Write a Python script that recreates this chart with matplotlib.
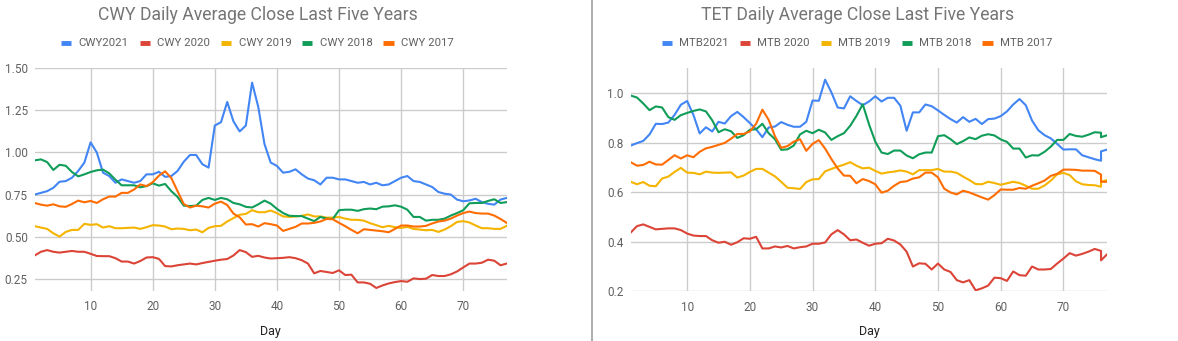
import numpy as np
import matplotlib
matplotlib.use("Agg")
import matplotlib.pyplot as plt
from matplotlib.lines import Line2D

plt.rcParams['font.family'] = ['Roboto', 'DejaVu Sans']

# day numbers
days_cwy = list(range(1, 78))
# the TET chart has two readings on day 76
days_mtb = list(range(1, 77)) + [76, 77]

cwy_2021 = [0.75, 0.76, 0.77, 0.79, 0.826, 0.83, 0.85, 0.89, 0.94, 1.06,
            1.0, 0.88, 0.86, 0.82, 0.84, 0.83, 0.82, 0.83, 0.87, 0.87,
            0.885, 0.855, 0.86, 0.89, 0.945, 0.985, 0.985, 0.93, 0.91, 1.16,
            1.18, 1.30, 1.185, 1.125, 1.16, 1.415, 1.27, 1.05, 0.94, 0.92,
            0.88, 0.885, 0.90, 0.87, 0.845, 0.835, 0.81, 0.85, 0.85, 0.84,
            0.84, 0.83, 0.82, 0.825, 0.81, 0.82, 0.805, 0.81, 0.83, 0.85,
            0.86, 0.83, 0.825, 0.81, 0.795, 0.765, 0.755, 0.75, 0.72, 0.71,
            0.715, 0.725, 0.705, 0.695, 0.69, 0.72, 0.73]
cwy_2020 = [0.388, 0.41, 0.42, 0.41, 0.405, 0.41, 0.415, 0.41, 0.41, 0.398,
            0.385, 0.384, 0.384, 0.372, 0.352, 0.352, 0.34, 0.355, 0.376, 0.378,
            0.368, 0.325, 0.323, 0.33, 0.335, 0.34, 0.335, 0.343, 0.35, 0.357,
            0.363, 0.367, 0.388, 0.42, 0.408, 0.38, 0.386, 0.376, 0.37, 0.372,
            0.374, 0.378, 0.372, 0.36, 0.34, 0.282, 0.296, 0.29, 0.284, 0.30,
            0.272, 0.274, 0.228, 0.228, 0.22, 0.195, 0.21, 0.222, 0.23, 0.236,
            0.232, 0.252, 0.248, 0.25, 0.272, 0.266, 0.266, 0.276, 0.293, 0.317,
            0.34, 0.34, 0.345, 0.363, 0.357, 0.33, 0.34]
cwy_2019 = [0.562, 0.554, 0.546, 0.52, 0.50, 0.528, 0.54, 0.54, 0.576, 0.57,
            0.574, 0.554, 0.562, 0.55, 0.55, 0.552, 0.554, 0.546, 0.556, 0.568,
            0.566, 0.56, 0.544, 0.548, 0.546, 0.538, 0.542, 0.526, 0.552, 0.562,
            0.564, 0.59, 0.61, 0.63, 0.635, 0.657, 0.645, 0.645, 0.655, 0.64,
            0.62, 0.617, 0.62, 0.624, 0.632, 0.62, 0.62, 0.613, 0.613, 0.617,
            0.607, 0.60, 0.60, 0.595, 0.58, 0.568, 0.556, 0.564, 0.556, 0.552,
            0.558, 0.546, 0.542, 0.538, 0.54, 0.528, 0.542, 0.562, 0.587, 0.592,
            0.584, 0.566, 0.55, 0.55, 0.546, 0.546, 0.564]
cwy_2018 = [0.953, 0.959, 0.943, 0.896, 0.927, 0.921, 0.884, 0.858, 0.87, 0.884,
            0.894, 0.898, 0.876, 0.838, 0.805, 0.805, 0.805, 0.793, 0.80, 0.817,
            0.803, 0.813, 0.77, 0.736, 0.684, 0.682, 0.684, 0.718, 0.73, 0.718,
            0.73, 0.722, 0.70, 0.692, 0.677, 0.673, 0.692, 0.714, 0.696, 0.665,
            0.64, 0.624, 0.622, 0.622, 0.607, 0.592, 0.617, 0.607, 0.605, 0.657,
            0.66, 0.66, 0.653, 0.663, 0.667, 0.663, 0.678, 0.68, 0.686, 0.678,
            0.66, 0.617, 0.617, 0.595, 0.60, 0.60, 0.607, 0.625, 0.64, 0.657,
            0.698, 0.70, 0.70, 0.712, 0.722, 0.70, 0.705]
cwy_2017 = [0.70, 0.69, 0.684, 0.692, 0.68, 0.677, 0.694, 0.714, 0.704, 0.712,
            0.70, 0.722, 0.738, 0.738, 0.76, 0.76, 0.78, 0.81, 0.80, 0.823,
            0.862, 0.888, 0.848, 0.77, 0.694, 0.673, 0.684, 0.68, 0.673, 0.696,
            0.708, 0.688, 0.637, 0.615, 0.572, 0.574, 0.56, 0.58, 0.574, 0.566,
            0.534, 0.546, 0.558, 0.578, 0.578, 0.582, 0.59, 0.605, 0.603, 0.582,
            0.562, 0.54, 0.52, 0.544, 0.54, 0.536, 0.532, 0.526, 0.546, 0.566,
            0.566, 0.56, 0.56, 0.564, 0.578, 0.59, 0.595, 0.607, 0.625, 0.64,
            0.649, 0.64, 0.637, 0.637, 0.625, 0.605, 0.582]

mtb_2021 = [0.788, 0.798, 0.807, 0.833, 0.876, 0.875, 0.881, 0.912, 0.953, 0.968,
            0.912, 0.837, 0.862, 0.845, 0.884, 0.877, 0.907, 0.924, 0.903, 0.879,
            0.854, 0.822, 0.861, 0.865, 0.883, 0.872, 0.864, 0.864, 0.884, 0.97,
            0.969, 1.054, 1.003, 0.942, 0.938, 0.987, 0.968, 0.951, 0.966, 0.987,
            0.966, 0.981, 0.981, 0.949, 0.848, 0.922, 0.922, 0.954, 0.947, 0.93,
            0.912, 0.895, 0.881, 0.903, 0.884, 0.896, 0.875, 0.895, 0.897, 0.907,
            0.926, 0.954, 0.976, 0.951, 0.889, 0.85, 0.83, 0.817, 0.795, 0.772,
            0.773, 0.773, 0.749, 0.741, 0.733, 0.727, 0.765, 0.772]
mtb_2020 = [0.437, 0.463, 0.47, 0.46, 0.45, 0.452, 0.454, 0.454, 0.447, 0.433,
            0.425, 0.423, 0.423, 0.406, 0.396, 0.40, 0.388, 0.398, 0.414, 0.412,
            0.42, 0.373, 0.373, 0.381, 0.377, 0.383, 0.373, 0.378, 0.381, 0.392,
            0.392, 0.397, 0.43, 0.447, 0.43, 0.406, 0.409, 0.396, 0.384, 0.392,
            0.394, 0.412, 0.405, 0.389, 0.36, 0.30, 0.313, 0.311, 0.288, 0.312,
            0.288, 0.278, 0.245, 0.236, 0.245, 0.204, 0.212, 0.223, 0.255, 0.253,
            0.242, 0.28, 0.265, 0.263, 0.30, 0.288, 0.288, 0.29, 0.312, 0.332,
            0.354, 0.344, 0.351, 0.36, 0.371, 0.363, 0.325, 0.35]
mtb_2019 = [0.642, 0.632, 0.641, 0.626, 0.624, 0.655, 0.663, 0.682, 0.698, 0.679,
            0.678, 0.672, 0.683, 0.679, 0.678, 0.679, 0.68, 0.659, 0.667, 0.682,
            0.694, 0.694, 0.679, 0.664, 0.642, 0.618, 0.616, 0.613, 0.641, 0.652,
            0.653, 0.684, 0.694, 0.703, 0.711, 0.721, 0.707, 0.696, 0.699, 0.686,
            0.675, 0.68, 0.683, 0.688, 0.683, 0.672, 0.689, 0.689, 0.689, 0.694,
            0.683, 0.683, 0.678, 0.663, 0.649, 0.633, 0.632, 0.642, 0.637, 0.63,
            0.636, 0.642, 0.637, 0.626, 0.614, 0.614, 0.627, 0.647, 0.672, 0.678,
            0.669, 0.644, 0.632, 0.629, 0.628, 0.622, 0.642, 0.649]
mtb_2018 = [0.99, 0.982, 0.958, 0.931, 0.946, 0.942, 0.903, 0.892, 0.911, 0.92,
            0.928, 0.934, 0.926, 0.89, 0.842, 0.854, 0.846, 0.819, 0.83, 0.852,
            0.854, 0.876, 0.838, 0.814, 0.771, 0.773, 0.788, 0.833, 0.848, 0.838,
            0.852, 0.841, 0.811, 0.826, 0.838, 0.868, 0.908, 0.955, 0.874, 0.804,
            0.76, 0.754, 0.768, 0.768, 0.748, 0.737, 0.753, 0.76, 0.76, 0.826,
            0.83, 0.814, 0.794, 0.806, 0.821, 0.814, 0.828, 0.834, 0.829, 0.813,
            0.803, 0.776, 0.776, 0.74, 0.749, 0.748, 0.763, 0.784, 0.811, 0.811,
            0.835, 0.827, 0.824, 0.832, 0.842, 0.84, 0.822, 0.83]
mtb_2017 = [0.721, 0.707, 0.71, 0.723, 0.712, 0.711, 0.73, 0.749, 0.736, 0.749,
            0.741, 0.763, 0.777, 0.783, 0.791, 0.799, 0.816, 0.835, 0.835, 0.845,
            0.876, 0.933, 0.892, 0.826, 0.779, 0.786, 0.804, 0.814, 0.767, 0.795,
            0.81, 0.776, 0.734, 0.696, 0.667, 0.666, 0.636, 0.653, 0.645, 0.632,
            0.598, 0.606, 0.626, 0.641, 0.644, 0.655, 0.66, 0.679, 0.679, 0.66,
            0.614, 0.599, 0.591, 0.606, 0.599, 0.589, 0.579, 0.57, 0.588, 0.611,
            0.61, 0.61, 0.617, 0.614, 0.626, 0.636, 0.647, 0.666, 0.674, 0.691,
            0.691, 0.69, 0.687, 0.687, 0.686, 0.671, 0.642, 0.642]

cwy_names = ['CWY2021', 'CWY 2020', 'CWY 2019', 'CWY 2018', 'CWY 2017']
mtb_names = ['MTB2021', 'MTB 2020', 'MTB 2019', 'MTB 2018', 'MTB 2017']
colors = ['#4285F4', '#DB4437', '#F4B400', '#0F9D58', '#FF6D01']

W, H = 1178, 341
fig = plt.figure(figsize=(W / 100, H / 100), dpi=100)
fig.patch.set_facecolor('white')


def setup(ax, ylim, yticks, fmt):
    ax.set_xlim(1, 77)
    ax.set_ylim(*ylim)
    ax.set_xticks([10, 20, 30, 40, 50, 60, 70])
    ax.set_yticks(yticks)
    ax.set_yticklabels([fmt % v for v in yticks])
    ax.grid(True, color='#cccccc', linewidth=1.0)
    ax.set_axisbelow(True)
    for s in ax.spines.values():
        s.set_visible(False)
    ax.tick_params(length=0, labelsize=8.5, labelcolor='#616161')
    ax.tick_params(axis='x', pad=7)
    ax.tick_params(axis='y', pad=5)


ax1 = fig.add_axes([34.7 / W, 1 - 290.5 / H, 472 / W, 222.2 / H])
for ys, c in zip([cwy_2021, cwy_2020, cwy_2019, cwy_2018, cwy_2017], colors):
    ax1.plot(days_cwy, ys, color=c, linewidth=1.5, solid_joinstyle='round')
setup(ax1, (0.18, 1.5), [0.25, 0.5, 0.75, 1.0, 1.25, 1.5], '%.2f')

ax2 = fig.add_axes([630.7 / W, 1 - 291.3 / H, 476.6 / W, 223 / H])
for ys, c in zip([mtb_2021, mtb_2020, mtb_2019, mtb_2018, mtb_2017], colors):
    ax2.plot(days_mtb, ys, color=c, linewidth=1.5, solid_joinstyle='round')
setup(ax2, (0.2, 1.1), [0.2, 0.4, 0.6, 0.8, 1.0], '%.1f')

# x axis titles
fig.text(270.7 / W, 1 - 332 / H, 'Day', ha='center', va='center',
         fontsize=9, color='#222222')
fig.text(869 / W, 1 - 332 / H, 'Day', ha='center', va='center',
         fontsize=9, color='#222222')

# titles
fig.text(257.7 / W, 1 - 15.5 / H, 'CWY Daily Average Close Last Five Years',
         ha='center', va='center', fontsize=12.7, color='#757575')
fig.text(857.5 / W, 1 - 15.5 / H, 'TET Daily Average Close Last Five Years',
         ha='center', va='center', fontsize=12.7, color='#757575')

# legends
for names, cx in [(cwy_names, 257.5), (mtb_names, 857.0)]:
    handles = [Line2D([], [], color=c, linewidth=3.5, solid_capstyle='butt')
               for c in colors]
    fig.legend(handles, names, loc='center', bbox_to_anchor=(cx / W, 1 - 43.5 / H),
               ncol=5, frameon=False, fontsize=8.2, handlelength=0.9,
               handletextpad=0.65, columnspacing=0.95, labelcolor='#616161')

# separator between the two charts
fig.add_artist(Line2D([591.5 / W, 591.5 / W], [0, 1], color='#9e9e9e', linewidth=1.2))

fig.savefig('out.png', dpi=100)
